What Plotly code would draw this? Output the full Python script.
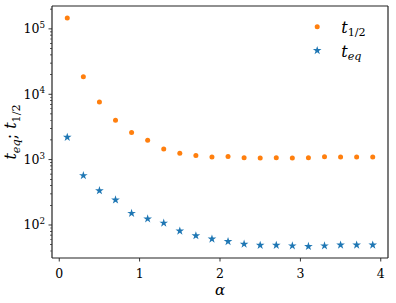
import math
import plotly.graph_objects as go

alpha = [0.1, 0.3, 0.5, 0.7, 0.9, 1.1, 1.3, 1.5, 1.7, 1.9,
         2.1, 2.3, 2.5, 2.7, 2.9, 3.1, 3.3, 3.5, 3.7, 3.9]
t_half = [1.47e5, 1.86e4, 7.6e3, 4.0e3, 2.6e3, 1.98e3, 1.45e3, 1.25e3, 1.16e3, 1.10e3,
          1.12e3, 1.07e3, 1.06e3, 1.07e3, 1.06e3, 1.07e3, 1.11e3, 1.10e3, 1.10e3, 1.10e3]
t_eq = [2200, 570, 335, 242, 151, 124, 107, 81, 68.6, 61,
        56, 51, 49, 49, 48, 47, 48, 49.5, 49.5, 49.5]
x_ticks = [0, 1, 2, 3, 4]
y_ticks = [1e2, 1e3, 1e4, 1e5]
y_tick_labels = ["10<sup>2</sup>", "10<sup>3</sup>", "10<sup>4</sup>", "10<sup>5</sup>"]

font_family = "DejaVu Serif"
x_range = [-0.09, 4.09]
y_range = [1.495, 5.35]
minor_vals = [m * 10 ** d for d in range(1, 6) for m in range(2, 10)
              if y_range[0] <= math.log10(m * 10 ** d) <= y_range[1]]

W, H = 396, 303
ML, MR, MT, MB = 52, 8, 6, 45
PW, PH = W - ML - MR, H - MT - MB
FRAME = "#222"


def yfrac(v):
    return (math.log10(v) - y_range[0]) / (y_range[1] - y_range[0])


fig = go.Figure()
fig.add_trace(go.Scatter(
    x=alpha, y=t_half, mode="markers",
    marker=dict(symbol="circle", size=5, color="#ff7f0e"),
    name="<i>t</i><sub>1/2</sub>"))
fig.add_trace(go.Scatter(
    x=alpha, y=t_eq, mode="markers",
    marker=dict(symbol="star", size=6.5, color="#1f77b4", line=dict(width=0)),
    name="<i>t<sub>eq</sub></i>"))

# frame and ticks drawn as filled shapes
shapes = []
fill = dict(type="rect", fillcolor=FRAME, line=dict(width=0), layer="above")
for xa in (0, 1):
    shapes.append(dict(fill, xref="paper", xsizemode="pixel", xanchor=xa, x0=-0.6, x1=0.6,
                       yref="paper", y0=0, y1=1))
for ya in (0, 1):
    shapes.append(dict(fill, yref="paper", ysizemode="pixel", yanchor=ya, y0=-0.6, y1=0.6,
                       xref="paper", x0=0, x1=1))
for v in x_ticks:
    shapes.append(dict(fill, xref="x", xsizemode="pixel", xanchor=v, x0=-0.45, x1=0.45,
                       yref="paper", y0=-3.5 / PH, y1=0))
for v in y_ticks:
    shapes.append(dict(fill, yref="paper", ysizemode="pixel", yanchor=yfrac(v), y0=-0.45, y1=0.45,
                       xref="paper", x0=-3.5 / PW, x1=0))
for v in minor_vals:
    shapes.append(dict(fill, yref="paper", ysizemode="pixel", yanchor=yfrac(v), y0=-0.35, y1=0.35,
                       xref="paper", x0=-2.0 / PW, x1=0))

tickfont = dict(family=font_family, size=12.5, color="black")
axis_common = dict(showline=False, ticks="outside", ticklen=3.5, tickwidth=0.8,
                   tickcolor="rgba(0,0,0,0)", showgrid=False, zeroline=False,
                   automargin=False, tickfont=tickfont)

fig.update_layout(
    xaxis=dict(range=x_range, tickvals=x_ticks,
               title=dict(text="<i>α</i>", font=dict(family=font_family, size=15, color="black"), standoff=4),
               **axis_common),
    yaxis=dict(type="log", range=y_range, tickvals=y_ticks, ticktext=y_tick_labels,
               title=dict(text="<i>t<sub>eq</sub></i>; <i>t</i><sub>1/2</sub>",
                          font=dict(family=font_family, size=16, color="black"), standoff=2),
               **axis_common),
    shapes=shapes,
    width=W, height=H,
    margin=dict(l=ML, r=MR, t=MT, b=MB),
    paper_bgcolor="white", plot_bgcolor="white",
    showlegend=True,
    legend=dict(x=0.95, y=0.985, xanchor="right", yanchor="top",
                bgcolor="rgba(0,0,0,0)", borderwidth=0,
                font=dict(family=font_family, size=16, color="black"),
                itemwidth=38),
)

fig.write_html("out.html", config={"displayModeBar": False},
               post_script="document.body.style.margin='0';document.body.style.padding='0';")
